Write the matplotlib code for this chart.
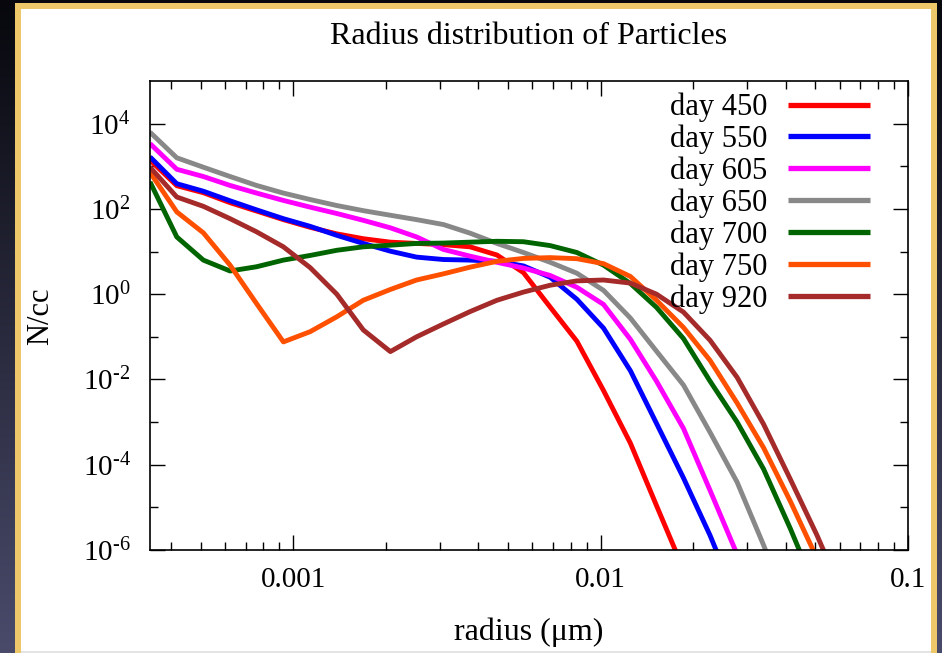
import numpy as np
import matplotlib
matplotlib.use("Agg")
import matplotlib.pyplot as plt
from matplotlib.patches import Rectangle
from matplotlib.colors import LinearSegmentedColormap
from matplotlib.ticker import LogLocator, FixedLocator, FuncFormatter, NullFormatter

plt.rcParams['font.family'] = ['Liberation Serif', 'DejaVu Serif']
plt.rcParams['mathtext.fontset'] = 'custom'
plt.rcParams['mathtext.rm'] = 'Liberation Serif'
plt.rcParams['mathtext.it'] = 'Liberation Serif:italic'

# ---------------- data ----------------
radius = [3.42e-4, 4.18e-4, 5.10e-4, 6.23e-4, 7.60e-4, 9.29e-4, 1.135e-3, 1.386e-3,
          1.69e-3, 2.07e-3, 2.52e-3, 3.08e-3, 3.76e-3, 4.60e-3, 5.61e-3, 6.85e-3,
          8.37e-3, 1.022e-2, 1.25e-2, 1.52e-2, 1.86e-2, 2.27e-2, 2.78e-2, 3.39e-2,
          4.14e-2, 5.06e-2, 6.18e-2]

day450 = [1.4e3, 3.5e2, 2.4e2, 1.4e2, 8.9e1, 5.6e1, 3.7e1, 2.6e1, 2.0e1, 1.66e1,
          1.55e1, 1.45e1, 1.29e1, 8.3, 3.2, 5.0e-1, 7.9e-2, 5.5e-3, 3.2e-4, 1.1e-5, 3.5e-7]
day550 = [1.66e3, 3.9e2, 2.6e2, 1.55e2, 9.5e1, 5.9e1, 3.9e1, 2.4e1, 1.55e1, 1.02e1,
          7.4, 6.5, 6.3, 5.9, 4.6, 2.5, 7.6e-1, 1.6e-1, 1.6e-2, 9.3e-4, 4.9e-5, 2.2e-6, 6.3e-8]
day605 = [3.4e3, 8.5e2, 5.75e2, 3.55e2, 2.35e2, 1.58e2, 1.1e2, 7.8e1, 5.4e1, 3.6e1,
          2.2e1, 1.12e1, 7.8, 5.6, 4.1, 2.75, 1.45, 5.75e-1, 8.7e-2, 9.1e-3, 7.1e-4, 2.5e-5, 7.9e-7]
day650 = [6.3e3, 1.58e3, 9.5e2, 5.75e2, 3.55e2, 2.35e2, 1.66e2, 1.2e2, 9.1e1, 7.1e1,
          5.6e1, 4.3e1, 2.7e1, 1.55e1, 9.5, 5.6, 3.1, 1.23, 2.75e-1, 4.6e-2, 7.4e-3,
          5.75e-4, 3.9e-5, 1.3e-6, 3.2e-8]
day700 = [4.3e2, 2.2e1, 6.3, 3.5, 4.4, 6.3, 8.1, 1.07e1, 1.29e1, 1.41e1, 1.55e1, 1.58e1,
          1.66e1, 1.74e1, 1.7e1, 1.38e1, 9.5, 4.8, 1.78, 4.9e-1, 9.1e-2, 9.1e-3, 1.0e-3,
          7.9e-5, 3.2e-6, 1.0e-7]
day750 = [7.2e2, 8.5e1, 2.75e1, 4.8, 6.0e-1, 7.6e-2, 1.32e-1, 2.95e-1, 7.2e-1, 1.29,
          2.15, 3.0, 4.3, 5.9, 6.9, 7.2, 6.8, 5.2, 2.6, 7.2e-1, 1.66e-1, 2.8e-2, 2.8e-3,
          2.5e-4, 1.4e-5, 6.3e-7]
day920 = [9.5e2, 1.9e2, 1.15e2, 5.9e1, 2.9e1, 1.29e1, 4.2, 1.0, 1.45e-1, 4.5e-2, 1.0e-1,
          2.0e-1, 3.9e-1, 7.2e-1, 1.12, 1.62, 2.05, 2.15, 1.82, 1.0, 3.8e-1, 8.3e-2,
          1.12e-2, 8.9e-4, 4.6e-5, 2.2e-6, 7.9e-8]

labels = ["day 450", "day 550", "day 605", "day 650", "day 700", "day 750", "day 920"]
series = [day450, day550, day605, day650, day700, day750, day920]
colors = ["#ff0000", "#0000ff", "#ff00ff", "#888888", "#006400", "#ff5000", "#a52a2a"]
xticks_major = [0.001, 0.01, 0.1]
xtick_labels = ["0.001", "0.01", "0.1"]

W, H = 942, 653
fig = plt.figure(figsize=(W / 100, H / 100), dpi=100)

# ---------------- slide frame background ----------------
bg = fig.add_axes([0, 0, 1, 1], zorder=0)
bg.set_xlim(0, W)
bg.set_ylim(H, 0)
bg.axis('off')
cmap = LinearSegmentedColormap.from_list('bgc', ['#07070d', '#4a4b6b'])
bg.imshow(np.linspace(0, 1, 256).reshape(-1, 1), cmap=cmap, extent=[0, W, H, 0],
          aspect='auto', interpolation='bilinear')
bg.add_patch(Rectangle((15, 3), 922, 670, facecolor='#edc76a', edgecolor='none'))
bg.add_patch(Rectangle((21, 9), 910, 642, facecolor='white', edgecolor='none'))
bg.add_patch(Rectangle((21, 651), 910, 3, facecolor='#e4e4e4', edgecolor='none'))

# ---------------- main axes ----------------
ax = fig.add_axes([150 / W, 1 - 550 / H, 758 / W, 469 / H], zorder=1)
ax.patch.set_alpha(0)
for y, lab, c in zip(series, labels, colors):
    ax.plot(radius[:len(y)], y, color=c, lw=3.5, label=lab,
            solid_joinstyle='round', solid_capstyle='butt')

ax.set_xscale('log')
ax.set_yscale('log')
ax.set_xlim(3.42e-4, 0.1)
ax.set_ylim(1e-6, 1e5)


def xfmt(v, p):
    for t, s in zip(xticks_major, xtick_labels):
        if abs(v - t) < 1e-9:
            return s
    return ''


def yfmt(v, p):
    e = int(round(np.log10(v)))
    es = ('\u2010%d' % -e) if e < 0 else '%d' % e
    return r'$\mathregular{10^{%s}}$' % es


ax.xaxis.set_major_locator(FixedLocator(xticks_major))
ax.xaxis.set_major_formatter(FuncFormatter(xfmt))
ax.xaxis.set_minor_locator(LogLocator(base=10, subs=np.arange(2, 10), numticks=50))
ax.xaxis.set_minor_formatter(NullFormatter())

ax.yaxis.set_major_locator(LogLocator(base=100, numticks=20))
ax.yaxis.set_major_formatter(FuncFormatter(yfmt))
ax.yaxis.set_minor_locator(FixedLocator([1e-5, 1e-3, 1e-1, 1e1, 1e3]))
ax.yaxis.set_minor_formatter(NullFormatter())

ax.tick_params(which='both', direction='in', top=True, right=True, width=1.0, colors='black')
ax.tick_params(which='major', length=11)
ax.tick_params(which='minor', length=5.5)
ax.tick_params(axis='x', which='major', pad=12, labelsize=21)
ax.tick_params(axis='y', which='major', pad=14, labelsize=21)
for s in ax.spines.values():
    s.set_linewidth(1.2)

leg = ax.legend(loc='upper right', bbox_to_anchor=(0.950, 0.975), frameon=False,
                markerfirst=False, handlelength=2.7, handletextpad=0.65,
                labelspacing=0.08, borderpad=0, borderaxespad=0, fontsize=22)
for line in leg.get_lines():
    line.set_linewidth(3.8)

fig.text(529 / W, 1 - 37 / H, "Radius distribution of Particles", ha='center', va='center', fontsize=23)
fig.text(529 / W, 1 - 632 / H, "radius (μm)", ha='center', va='center', fontsize=23)
fig.text(41 / W, 1 - 316 / H, "N/cc", ha='center', va='center', rotation=90, fontsize=22)

fig.savefig('out.png', dpi=100)
